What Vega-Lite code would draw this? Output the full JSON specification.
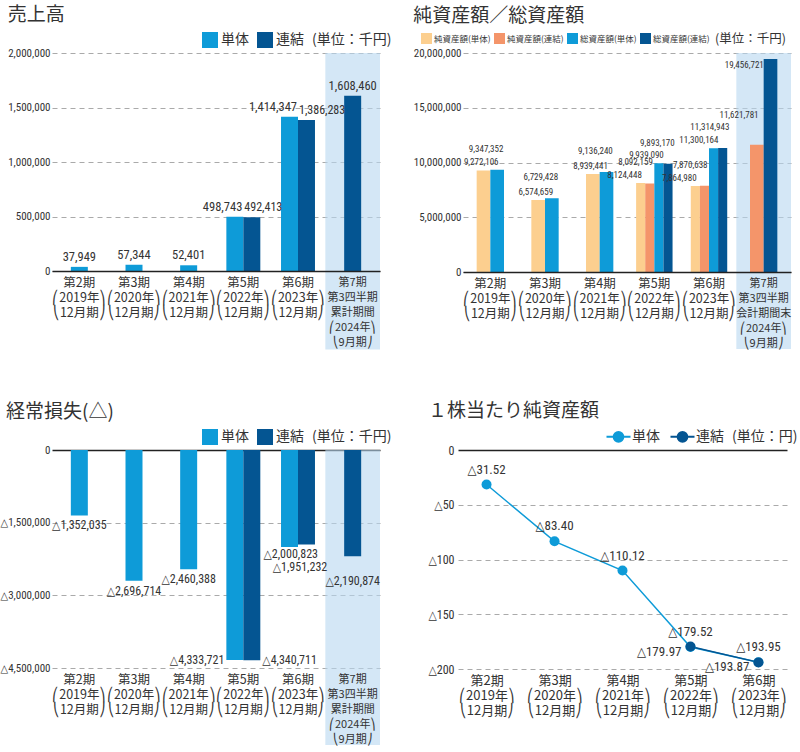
{
  "$schema": "https://vega.github.io/schema/vega-lite/v6.json",
  "padding": {"left": 0, "top": 6, "right": 0, "bottom": 0},
  "background": "white",
  "config": {
    "font": "Noto Sans CJK JP",
    "view": {"stroke": null},
    "locale": {"number": {"decimal": ".", "thousands": ",", "grouping": [3], "currency": ["", ""], "minus": "△"}}
  },
  "datasets": {
    "sales": [
      {"period": "第2期 (2019年 12月期)", "series": "単体", "value": 37949},
      {"period": "第3期 (2020年 12月期)", "series": "単体", "value": 57344},
      {"period": "第4期 (2021年 12月期)", "series": "単体", "value": 52401},
      {"period": "第5期 (2022年 12月期)", "series": "単体", "value": 498743},
      {"period": "第5期 (2022年 12月期)", "series": "連結", "value": 492413},
      {"period": "第6期 (2023年 12月期)", "series": "単体", "value": 1414347},
      {"period": "第6期 (2023年 12月期)", "series": "連結", "value": 1386283},
      {"period": "第7期 第3四半期 累計期間 (2024年 9月期)", "series": "連結", "value": 1608460}
    ],
    "assets": [
      {"period": "第2期 (2019年 12月期)", "series": "純資産額(単体)", "value": 9272106},
      {"period": "第2期 (2019年 12月期)", "series": "総資産額(単体)", "value": 9347352},
      {"period": "第3期 (2020年 12月期)", "series": "純資産額(単体)", "value": 6574659},
      {"period": "第3期 (2020年 12月期)", "series": "総資産額(単体)", "value": 6729428},
      {"period": "第4期 (2021年 12月期)", "series": "純資産額(単体)", "value": 8939441},
      {"period": "第4期 (2021年 12月期)", "series": "総資産額(単体)", "value": 9136240},
      {"period": "第5期 (2022年 12月期)", "series": "純資産額(単体)", "value": 8124448},
      {"period": "第5期 (2022年 12月期)", "series": "純資産額(連結)", "value": 8092159},
      {"period": "第5期 (2022年 12月期)", "series": "総資産額(単体)", "value": 9939090},
      {"period": "第5期 (2022年 12月期)", "series": "総資産額(連結)", "value": 9893170},
      {"period": "第6期 (2023年 12月期)", "series": "純資産額(単体)", "value": 7864980},
      {"period": "第6期 (2023年 12月期)", "series": "純資産額(連結)", "value": 7870638},
      {"period": "第6期 (2023年 12月期)", "series": "総資産額(単体)", "value": 11300164},
      {"period": "第6期 (2023年 12月期)", "series": "総資産額(連結)", "value": 11314943},
      {"period": "第7期 第3四半期 会計期間末 (2024年 9月期)", "series": "純資産額(連結)", "value": 11621781},
      {"period": "第7期 第3四半期 会計期間末 (2024年 9月期)", "series": "総資産額(連結)", "value": 19456721}
    ],
    "loss": [
      {"period": "第2期 (2019年 12月期)", "series": "単体", "value": -1352035},
      {"period": "第3期 (2020年 12月期)", "series": "単体", "value": -2696714},
      {"period": "第4期 (2021年 12月期)", "series": "単体", "value": -2460388},
      {"period": "第5期 (2022年 12月期)", "series": "単体", "value": -4333721},
      {"period": "第5期 (2022年 12月期)", "series": "連結", "value": -4340711},
      {"period": "第6期 (2023年 12月期)", "series": "単体", "value": -2000823},
      {"period": "第6期 (2023年 12月期)", "series": "連結", "value": -1951232},
      {"period": "第7期 第3四半期 累計期間 (2024年 9月期)", "series": "連結", "value": -2190874}
    ],
    "pershare": [
      {"period": "第2期 (2019年 12月期)", "series": "単体", "value": -31.52},
      {"period": "第3期 (2020年 12月期)", "series": "単体", "value": -83.40},
      {"period": "第4期 (2021年 12月期)", "series": "単体", "value": -110.12},
      {"period": "第5期 (2022年 12月期)", "series": "単体", "value": -179.97},
      {"period": "第6期 (2023年 12月期)", "series": "単体", "value": -193.87},
      {"period": "第5期 (2022年 12月期)", "series": "連結", "value": -179.52},
      {"period": "第6期 (2023年 12月期)", "series": "連結", "value": -193.95}
    ]
  },
  "spacing": 52,
  "resolve": {"scale": {"color": "independent", "xOffset": "independent"}, "legend": {"color": "independent"}},
  "vconcat": [
    {
      "spacing": 21,
      "resolve": {"scale": {"color": "independent", "xOffset": "independent"}, "legend": {"color": "independent"}},
      "hconcat": [
        {
          "width": 328, "height": 218,
          "title": {"text": "売上高", "anchor": "start", "frame": "bounds", "fontSize": 19, "fontWeight": "normal", "color": "#333", "offset": 7},
          "data": {"name": "sales"},
          "transform": [{"joinaggregate": [{"op": "count", "as": "n"}], "groupby": ["period"]}],
          "encoding": {
            "x": {"field": "period", "type": "nominal", "sort": "ascending", "scale": {"paddingInner": 0, "paddingOuter": 0},
              "axis": {"title": null, "labelAngle": 0, "labelExpr": "split(replace(replace(replace(datum.label, '(', '⎛'), '年 ', '年⎞ ⎝'), ')', '⎠'), ' ')", "labelFontSize": {"condition": {"test": "indexof(datum.value, '第7期') == 0", "value": 11}, "value": 12.5}, "labelLineHeight": 15, "labelColor": "#333", "labelPadding": 5, "ticks": false, "domain": true, "domainColor": "#222", "domainWidth": 1.5, "zindex": 1, "labelBaseline": "top"}},
            "y": {"field": "value", "type": "quantitative", "scale": {"domain": [0, 2000000], "nice": false},
              "axis": {"title": null, "values": [0, 500000, 1000000, 1500000, 2000000], "format": ",", "labelExpr": "format(datum.value, ',')", "grid": true, "gridColor": "#aaa", "gridDash": [5, 4], "domain": false, "ticks": false, "labelPadding": 2, "labelFont": "Liberation Sans Narrow, Roboto Condensed, DejaVu Sans Condensed, Liberation Sans", "labelFontSize": 11, "labelColor": "#333"}}
          },
          "layer": [
            {
              "transform": [{"filter": "indexof(datum.period, '第7期') == 0"}],
              "mark": {"type": "rect", "color": "#b7d7f0", "opacity": 0.6},
              "encoding": {"y": {"datum": 2000000, "type": "quantitative", "scale": {"domain": [0, 2000000], "nice": false},
                "axis": {"title": null, "values": [0, 500000, 1000000, 1500000, 2000000], "format": ",", "labelExpr": "format(datum.value, ',')", "grid": true, "gridColor": "#aaa", "gridDash": [5, 4], "domain": false, "ticks": false, "labelPadding": 2, "labelFont": "Liberation Sans Narrow, Roboto Condensed, DejaVu Sans Condensed, Liberation Sans", "labelFontSize": 11, "labelColor": "#333"}},
                "y2": {"datum": -720000}}
            },
            {
              "transform": [{"filter": "datum.n == 1"}],
              "mark": {"type": "bar", "width": 17},
              "encoding": {"color": {"field": "series", "type": "nominal", "scale": {"domain": ["単体", "連結"], "range": ["#0e9bd8", "#045592"]},
                "legend": {"title": "(単位：千円)", "titleOrient": "right", "orient": "none", "legendX": 150, "legendY": -21, "direction": "horizontal", "symbolType": "square", "symbolSize": 256, "symbolStrokeWidth": 0, "labelFontSize": 14, "titleFontSize": 14, "titleFontWeight": "normal", "titleColor": "#333", "labelColor": "#333", "columnPadding": 8, "labelOffset": 3, "titlePadding": 8}}}
            },
            {
              "transform": [{"filter": "datum.n == 2"}],
              "mark": {"type": "bar"},
              "encoding": {
                "xOffset": {"field": "series", "type": "nominal", "scale": {"domain": ["単体", "連結"], "paddingInner": 0, "paddingOuter": 0.61}},
                "color": {"field": "series", "type": "nominal", "scale": {"domain": ["単体", "連結"], "range": ["#0e9bd8", "#045592"]},
                  "legend": {"title": "(単位：千円)", "titleOrient": "right", "orient": "none", "legendX": 150, "legendY": -21, "direction": "horizontal", "symbolType": "square", "symbolSize": 256, "symbolStrokeWidth": 0, "labelFontSize": 14, "titleFontSize": 14, "titleFontWeight": "normal", "titleColor": "#333", "labelColor": "#333", "columnPadding": 8, "labelOffset": 3, "titlePadding": 8}}
              }
            },
            {
              "transform": [{"filter": "datum.n == 1"}],
              "mark": {"type": "text", "baseline": "bottom", "dy": -3, "font": "Liberation Sans Narrow, Roboto Condensed, DejaVu Sans Condensed, Liberation Sans", "fontSize": 12.5, "color": "#333"},
              "encoding": {"text": {"field": "value", "type": "quantitative", "format": ","}}
            },
            {
              "transform": [{"filter": "datum.n == 2 && datum.series == '単体'"}],
              "mark": {"type": "text", "baseline": "bottom", "align": "right", "dx": -1, "dy": -3, "font": "Liberation Sans Narrow, Roboto Condensed, DejaVu Sans Condensed, Liberation Sans", "fontSize": 12.5, "color": "#333"},
              "encoding": {"text": {"field": "value", "type": "quantitative", "format": ","}}
            },
            {
              "transform": [{"filter": "datum.n == 2 && datum.series == '連結'"}],
              "mark": {"type": "text", "baseline": "bottom", "align": "left", "dx": 1, "dy": -3, "font": "Liberation Sans Narrow, Roboto Condensed, DejaVu Sans Condensed, Liberation Sans", "fontSize": 12, "color": "#333"},
              "encoding": {"text": {"field": "value", "type": "quantitative", "format": ","}}
            }
          ],
          "resolve": {"scale": {"xOffset": "independent"}}
        },
        {
          "width": 328, "height": 219,
          "title": {"text": "純資産額／総資産額", "anchor": "start", "frame": "bounds", "fontSize": 19, "fontWeight": "normal", "color": "#333", "offset": 7},
          "data": {"name": "assets"},
          "transform": [{"joinaggregate": [{"op": "count", "as": "n"}], "groupby": ["period"]}],
          "encoding": {
            "x": {"field": "period", "type": "nominal", "sort": "ascending", "scale": {"paddingInner": 0, "paddingOuter": 0},
              "axis": {"title": null, "labelAngle": 0, "labelExpr": "split(replace(replace(replace(datum.label, '(', '⎛'), '年 ', '年⎞ ⎝'), ')', '⎠'), ' ')", "labelFontSize": {"condition": {"test": "indexof(datum.value, '第7期') == 0", "value": 11}, "value": 12.5}, "labelLineHeight": 15, "labelColor": "#333", "labelPadding": 5, "ticks": false, "domain": true, "domainColor": "#222", "domainWidth": 1.5, "zindex": 1, "labelBaseline": "top"}},
            "y": {"field": "value", "type": "quantitative", "scale": {"domain": [0, 20000000], "nice": false},
              "axis": {"title": null, "values": [0, 5000000, 10000000, 15000000, 20000000], "format": ",", "labelExpr": "format(datum.value, ',')", "grid": true, "gridColor": "#aaa", "gridDash": [5, 4], "domain": false, "ticks": false, "labelPadding": 2, "labelFont": "Liberation Sans Narrow, Roboto Condensed, DejaVu Sans Condensed, Liberation Sans", "labelFontSize": 11, "labelColor": "#333"}}
          },
          "layer": [
            {
              "transform": [{"filter": "indexof(datum.period, '第7期') == 0 && datum.series == '総資産額(連結)'"}],
              "mark": {"type": "rect", "color": "#b7d7f0", "opacity": 0.6},
              "encoding": {"y": {"datum": 20000000, "type": "quantitative", "scale": {"domain": [0, 20000000], "nice": false},
                "axis": {"title": null, "values": [0, 5000000, 10000000, 15000000, 20000000], "format": ",", "labelExpr": "format(datum.value, ',')", "grid": true, "gridColor": "#aaa", "gridDash": [5, 4], "domain": false, "ticks": false, "labelPadding": 2, "labelFont": "Liberation Sans Narrow, Roboto Condensed, DejaVu Sans Condensed, Liberation Sans", "labelFontSize": 11, "labelColor": "#333"}},
                "y2": {"datum": -7030000}}
            },
            {
              "transform": [{"filter": "datum.n == 2 && indexof(datum.series, '単体') > 0"}],
              "mark": {"type": "bar"},
              "encoding": {
                "xOffset": {"field": "series", "type": "nominal", "scale": {"domain": ["純資産額(単体)", "総資産額(単体)"], "paddingInner": 0, "paddingOuter": 2.28}},
                "color": {"field": "series", "type": "nominal", "scale": {"domain": ["純資産額(単体)", "純資産額(連結)", "総資産額(単体)", "総資産額(連結)"], "range": ["#fccf8f", "#f4956a", "#0e9bd8", "#045592"]},
                  "legend": {"title": "(単位：千円)", "titleOrient": "right", "orient": "none", "legendX": -42, "legendY": -20, "direction": "horizontal", "symbolType": "square", "symbolSize": 121, "symbolStrokeWidth": 0, "labelFontSize": 8.5, "titleFontSize": 12.5, "titleFontWeight": "normal", "titleColor": "#333", "labelColor": "#333", "columnPadding": 3, "labelOffset": 2, "titlePadding": 5}}
              }
            },
            {
              "transform": [{"filter": "datum.n == 2 && indexof(datum.series, '連結') > 0"}],
              "mark": {"type": "bar"},
              "encoding": {
                "xOffset": {"field": "series", "type": "nominal", "scale": {"domain": ["純資産額(連結)", "総資産額(連結)"], "paddingInner": 0, "paddingOuter": 2.28}},
                "color": {"field": "series", "type": "nominal", "scale": {"domain": ["純資産額(単体)", "純資産額(連結)", "総資産額(単体)", "総資産額(連結)"], "range": ["#fccf8f", "#f4956a", "#0e9bd8", "#045592"]},
                  "legend": {"title": "(単位：千円)", "titleOrient": "right", "orient": "none", "legendX": -42, "legendY": -20, "direction": "horizontal", "symbolType": "square", "symbolSize": 121, "symbolStrokeWidth": 0, "labelFontSize": 8.5, "titleFontSize": 12.5, "titleFontWeight": "normal", "titleColor": "#333", "labelColor": "#333", "columnPadding": 3, "labelOffset": 2, "titlePadding": 5}}
              }
            },
            {
              "transform": [{"filter": "datum.n == 4"}],
              "mark": {"type": "bar"},
              "encoding": {
                "xOffset": {"field": "series", "type": "nominal", "scale": {"domain": ["純資産額(単体)", "純資産額(連結)", "総資産額(単体)", "総資産額(連結)"], "paddingInner": 0, "paddingOuter": 1.28}},
                "color": {"field": "series", "type": "nominal", "scale": {"domain": ["純資産額(単体)", "純資産額(連結)", "総資産額(単体)", "総資産額(連結)"], "range": ["#fccf8f", "#f4956a", "#0e9bd8", "#045592"]},
                  "legend": {"title": "(単位：千円)", "titleOrient": "right", "orient": "none", "legendX": -42, "legendY": -20, "direction": "horizontal", "symbolType": "square", "symbolSize": 121, "symbolStrokeWidth": 0, "labelFontSize": 8.5, "titleFontSize": 12.5, "titleFontWeight": "normal", "titleColor": "#333", "labelColor": "#333", "columnPadding": 3, "labelOffset": 2, "titlePadding": 5}}
              }
            },
            {
              "transform": [{"filter": "datum.n == 2 && indexof(datum.series, '単体') > 0 && indexof(datum.series, '純資産') == 0"}],
              "mark": {"type": "text", "baseline": "middle", "align": "center", "dx": 0, "dy": -8, "font": "Liberation Sans Narrow, Roboto Condensed, DejaVu Sans Condensed, Liberation Sans", "fontSize": 9, "color": "#333"},
              "encoding": {
                "xOffset": {"field": "series", "type": "nominal", "scale": {"domain": ["純資産額(単体)", "総資産額(単体)"], "paddingInner": 0, "paddingOuter": 2.28}},
                "text": {"field": "value", "type": "quantitative", "format": ","}}
            },
            {
              "transform": [{"filter": "datum.n == 2 && indexof(datum.series, '単体') > 0 && indexof(datum.series, '総資産') == 0"}],
              "mark": {"type": "text", "baseline": "middle", "align": "right", "dx": 4, "dy": -21, "font": "Liberation Sans Narrow, Roboto Condensed, DejaVu Sans Condensed, Liberation Sans", "fontSize": 9, "color": "#333"},
              "encoding": {
                "xOffset": {"field": "series", "type": "nominal", "scale": {"domain": ["純資産額(単体)", "総資産額(単体)"], "paddingInner": 0, "paddingOuter": 2.28}},
                "text": {"field": "value", "type": "quantitative", "format": ","}}
            },
            {
              "transform": [{"filter": "datum.n == 2 && indexof(datum.series, '連結') > 0 && indexof(datum.series, '純資産') == 0"}],
              "mark": {"type": "text", "baseline": "middle", "align": "right", "dx": 4, "dy": -30, "font": "Liberation Sans Narrow, Roboto Condensed, DejaVu Sans Condensed, Liberation Sans", "fontSize": 9, "color": "#333"},
              "encoding": {
                "xOffset": {"field": "series", "type": "nominal", "scale": {"domain": ["純資産額(連結)", "総資産額(連結)"], "paddingInner": 0, "paddingOuter": 2.28}},
                "text": {"field": "value", "type": "quantitative", "format": ","}}
            },
            {
              "transform": [{"filter": "datum.n == 2 && indexof(datum.series, '連結') > 0 && indexof(datum.series, '総資産') == 0"}],
              "mark": {"type": "text", "baseline": "top", "align": "right", "dx": -9, "dy": 2, "font": "Liberation Sans Narrow, Roboto Condensed, DejaVu Sans Condensed, Liberation Sans", "fontSize": 9, "color": "#333"},
              "encoding": {
                "xOffset": {"field": "series", "type": "nominal", "scale": {"domain": ["純資産額(連結)", "総資産額(連結)"], "paddingInner": 0, "paddingOuter": 2.28}},
                "text": {"field": "value", "type": "quantitative", "format": ","}}
            },
            {
              "transform": [{"filter": "datum.n == 4 && indexof(datum.series, '単体') > 0"}],
              "mark": {"type": "text", "baseline": "middle", "align": "right", "dx": 4, "dy": -8, "font": "Liberation Sans Narrow, Roboto Condensed, DejaVu Sans Condensed, Liberation Sans", "fontSize": 9, "color": "#333"},
              "encoding": {
                "xOffset": {"field": "series", "type": "nominal", "scale": {"domain": ["純資産額(単体)", "純資産額(連結)", "総資産額(単体)", "総資産額(連結)"], "paddingInner": 0, "paddingOuter": 1.28}},
                "text": {"field": "value", "type": "quantitative", "format": ","}}
            },
            {
              "transform": [{"filter": "datum.n == 4 && indexof(datum.series, '連結') > 0"}],
              "mark": {"type": "text", "baseline": "middle", "align": "right", "dx": 4, "dy": -21, "font": "Liberation Sans Narrow, Roboto Condensed, DejaVu Sans Condensed, Liberation Sans", "fontSize": 9, "color": "#333"},
              "encoding": {
                "xOffset": {"field": "series", "type": "nominal", "scale": {"domain": ["純資産額(単体)", "純資産額(連結)", "総資産額(単体)", "総資産額(連結)"], "paddingInner": 0, "paddingOuter": 1.28}},
                "text": {"field": "value", "type": "quantitative", "format": ","}}
            }
          ],
          "resolve": {"scale": {"xOffset": "independent"}}
        }
      ]
    },
    {
      "spacing": 35,
      "resolve": {"scale": {"color": "independent", "xOffset": "independent"}, "legend": {"color": "independent"}},
      "hconcat": [
        {
          "width": 328, "height": 218,
          "title": {"text": "経常損失(△)", "anchor": "start", "frame": "bounds", "fontSize": 19, "fontWeight": "normal", "color": "#333", "offset": 7, "dx": 6},
          "data": {"name": "loss"},
          "transform": [{"joinaggregate": [{"op": "count", "as": "n"}], "groupby": ["period"]}],
          "encoding": {
            "x": {"field": "period", "type": "nominal", "sort": "ascending", "scale": {"paddingInner": 0, "paddingOuter": 0},
              "axis": {"title": null, "labelAngle": 0, "labelExpr": "split(replace(replace(replace(datum.label, '(', '⎛'), '年 ', '年⎞ ⎝'), ')', '⎠'), ' ')", "labelFontSize": {"condition": {"test": "indexof(datum.value, '第7期') == 0", "value": 11}, "value": 12.5}, "labelLineHeight": 15, "labelColor": "#333", "labelPadding": 5, "ticks": false, "domain": false, "zindex": 1, "labelBaseline": "top"}},
            "y": {"field": "value", "type": "quantitative", "scale": {"domain": [-4500000, 0], "nice": false},
              "axis": {"title": null, "values": [0, -1500000, -3000000, -4500000], "format": ",", "labelExpr": "format(datum.value, ',')", "grid": true, "gridColor": {"condition": {"test": "datum.value === 0", "value": "#222"}, "value": "#aaa"}, "gridDash": {"condition": {"test": "datum.value === 0", "value": []}, "value": [5, 4]}, "gridWidth": {"condition": {"test": "datum.value === 0", "value": 1.5}, "value": 1}, "domain": false, "ticks": false, "labelPadding": 2, "labelFont": "Liberation Sans Narrow, Roboto Condensed, DejaVu Sans Condensed, Liberation Sans", "labelFontSize": 11, "labelColor": "#333"}}
          },
          "layer": [
            {
              "transform": [{"filter": "indexof(datum.period, '第7期') == 0"}],
              "mark": {"type": "rect", "color": "#b7d7f0", "opacity": 0.6},
              "encoding": {"y": {"datum": 0, "type": "quantitative", "scale": {"domain": [-4500000, 0], "nice": false},
                "axis": {"title": null, "values": [0, -1500000, -3000000, -4500000], "format": ",", "labelExpr": "format(datum.value, ',')", "grid": true, "gridColor": {"condition": {"test": "datum.value === 0", "value": "#222"}, "value": "#aaa"}, "gridDash": {"condition": {"test": "datum.value === 0", "value": []}, "value": [5, 4]}, "gridWidth": {"condition": {"test": "datum.value === 0", "value": 1.5}, "value": 1}, "domain": false, "ticks": false, "labelPadding": 2, "labelFont": "Liberation Sans Narrow, Roboto Condensed, DejaVu Sans Condensed, Liberation Sans", "labelFontSize": 11, "labelColor": "#333"}},
                "y2": {"datum": -6090000}}
            },
            {
              "transform": [{"filter": "datum.n == 1"}],
              "mark": {"type": "bar", "width": 17},
              "encoding": {"color": {"field": "series", "type": "nominal", "scale": {"domain": ["単体", "連結"], "range": ["#0e9bd8", "#045592"]},
                "legend": {"title": "(単位：千円)", "titleOrient": "right", "orient": "none", "legendX": 150, "legendY": -21, "direction": "horizontal", "symbolType": "square", "symbolSize": 256, "symbolStrokeWidth": 0, "labelFontSize": 14, "titleFontSize": 14, "titleFontWeight": "normal", "titleColor": "#333", "labelColor": "#333", "columnPadding": 8, "labelOffset": 3, "titlePadding": 8}}}
            },
            {
              "transform": [{"filter": "datum.n == 2"}],
              "mark": {"type": "bar"},
              "encoding": {
                "xOffset": {"field": "series", "type": "nominal", "scale": {"domain": ["単体", "連結"], "paddingInner": 0, "paddingOuter": 0.61}},
                "color": {"field": "series", "type": "nominal", "scale": {"domain": ["単体", "連結"], "range": ["#0e9bd8", "#045592"]},
                  "legend": {"title": "(単位：千円)", "titleOrient": "right", "orient": "none", "legendX": 150, "legendY": -21, "direction": "horizontal", "symbolType": "square", "symbolSize": 256, "symbolStrokeWidth": 0, "labelFontSize": 14, "titleFontSize": 14, "titleFontWeight": "normal", "titleColor": "#333", "labelColor": "#333", "columnPadding": 8, "labelOffset": 3, "titlePadding": 8}}
              }
            },
            {
              "transform": [{"filter": "datum.n == 1 && datum.series == '単体'"}],
              "mark": {"type": "text", "baseline": "top", "dy": 5, "font": "Liberation Sans Narrow, Roboto Condensed, DejaVu Sans Condensed, Liberation Sans", "fontSize": 12, "color": "#333"},
              "encoding": {"text": {"field": "value", "type": "quantitative", "format": ","}}
            },
            {
              "transform": [{"filter": "datum.n == 1 && datum.series == '連結'"}],
              "mark": {"type": "text", "baseline": "top", "dy": 20, "font": "Liberation Sans Narrow, Roboto Condensed, DejaVu Sans Condensed, Liberation Sans", "fontSize": 12, "color": "#333"},
              "encoding": {"text": {"field": "value", "type": "quantitative", "format": ","}}
            },
            {
              "transform": [{"filter": "datum.n == 2 && datum.series == '単体' && datum.value > -4000000"}],
              "mark": {"type": "text", "baseline": "top", "align": "right", "dx": 20, "dy": 2, "font": "Liberation Sans Narrow, Roboto Condensed, DejaVu Sans Condensed, Liberation Sans", "fontSize": 12, "color": "#333"},
              "encoding": {"text": {"field": "value", "type": "quantitative", "format": ","}}
            },
            {
              "transform": [{"filter": "datum.n == 2 && datum.series == '連結' && datum.value > -4000000"}],
              "mark": {"type": "text", "baseline": "top", "align": "center", "dx": 2, "dy": 17, "font": "Liberation Sans Narrow, Roboto Condensed, DejaVu Sans Condensed, Liberation Sans", "fontSize": 12, "color": "#333"},
              "encoding": {"text": {"field": "value", "type": "quantitative", "format": ","}}
            },
            {
              "transform": [{"filter": "datum.n == 2 && datum.series == '単体' && datum.value <= -4000000"}],
              "mark": {"type": "text", "baseline": "middle", "align": "right", "dx": -19, "font": "Liberation Sans Narrow, Roboto Condensed, DejaVu Sans Condensed, Liberation Sans", "fontSize": 12, "color": "#333"},
              "encoding": {"text": {"field": "value", "type": "quantitative", "format": ","}}
            },
            {
              "transform": [{"filter": "datum.n == 2 && datum.series == '連結' && datum.value <= -4000000"}],
              "mark": {"type": "text", "baseline": "middle", "align": "left", "dx": 19, "font": "Liberation Sans Narrow, Roboto Condensed, DejaVu Sans Condensed, Liberation Sans", "fontSize": 12, "color": "#333"},
              "encoding": {"text": {"field": "value", "type": "quantitative", "format": ","}}
            }
          ],
          "resolve": {"scale": {"xOffset": "independent"}}
        },
        {
          "width": 329, "height": 219,
          "title": {"text": "１株当たり純資産額", "anchor": "start", "frame": "bounds", "fontSize": 19, "fontWeight": "normal", "color": "#333", "offset": 7},
          "data": {"name": "pershare"},
          "transform": [{"joinaggregate": [{"op": "count", "as": "n"}], "groupby": ["period"]}],
          "encoding": {
            "x": {"field": "period", "type": "nominal", "sort": "ascending", "scale": {"type": "point", "padding": 0.42},
              "axis": {"title": null, "labelAngle": 0, "labelExpr": "split(replace(replace(replace(datum.label, '(', '⎛'), '年 ', '年⎞ ⎝'), ')', '⎠'), ' ')", "labelFontSize": 13, "labelLineHeight": 15, "labelColor": "#333", "labelPadding": 5, "ticks": false, "domain": false, "labelBaseline": "top"}},
            "y": {"field": "value", "type": "quantitative", "scale": {"domain": [-200, 0], "nice": false},
              "axis": {"title": null, "values": [0, -50, -100, -150, -200], "format": "d", "grid": true, "gridColor": {"condition": {"test": "datum.value === 0", "value": "#222"}, "value": "#aaa"}, "gridDash": {"condition": {"test": "datum.value === 0", "value": []}, "value": [5, 4]}, "gridWidth": {"condition": {"test": "datum.value === 0", "value": 1.5}, "value": 1}, "domain": false, "ticks": false, "labelPadding": 4, "labelFont": "Liberation Sans Narrow, Roboto Condensed, DejaVu Sans Condensed, Liberation Sans", "labelFontSize": 12, "labelColor": "#333"}}
          },
          "layer": [
            {
              "mark": {"type": "line", "strokeWidth": 1.5},
              "encoding": {"color": {"field": "series", "type": "nominal", "scale": {"domain": ["単体", "連結"], "range": ["#0e9bd8", "#045592"]},
                "legend": {"title": "(単位：円)", "titleOrient": "right", "orient": "none", "legendX": 152, "legendY": -22, "direction": "horizontal", "symbolType": "M-1.6,0H-0.65M0.65,0H1.6M0.65,0A0.65,0.65 0 1,1 -0.65,0A0.65,0.65 0 1,1 0.65,0", "symbolSize": 225, "symbolStrokeWidth": 2, "labelFontSize": 14, "titleFontSize": 14, "titleFontWeight": "normal", "titleColor": "#333", "labelColor": "#333", "columnPadding": 6, "labelOffset": 5, "titlePadding": 8}}}
            },
            {
              "mark": {"type": "point", "filled": true, "size": 100, "opacity": 1},
              "encoding": {"color": {"field": "series", "type": "nominal", "scale": {"domain": ["単体", "連結"], "range": ["#0e9bd8", "#045592"]},
                "legend": {"title": "(単位：円)", "titleOrient": "right", "orient": "none", "legendX": 152, "legendY": -22, "direction": "horizontal", "symbolType": "M-1.6,0H-0.65M0.65,0H1.6M0.65,0A0.65,0.65 0 1,1 -0.65,0A0.65,0.65 0 1,1 0.65,0", "symbolSize": 225, "symbolStrokeWidth": 2, "labelFontSize": 14, "titleFontSize": 14, "titleFontWeight": "normal", "titleColor": "#333", "labelColor": "#333", "columnPadding": 6, "labelOffset": 5, "titlePadding": 8}}}
            },
            {
              "transform": [{"filter": "datum.n == 1 || datum.series == '連結'"}],
              "mark": {"type": "text", "baseline": "bottom", "dy": -8, "font": "Liberation Sans Narrow, Roboto Condensed, DejaVu Sans Condensed, Liberation Sans", "fontSize": 13, "color": "#333"},
              "encoding": {"text": {"field": "value", "type": "quantitative", "format": ".2f"}}
            },
            {
              "transform": [{"filter": "datum.n == 2 && datum.series == '単体'"}],
              "mark": {"type": "text", "baseline": "middle", "align": "right", "dx": -9, "dy": 5, "font": "Liberation Sans Narrow, Roboto Condensed, DejaVu Sans Condensed, Liberation Sans", "fontSize": 13, "color": "#333"},
              "encoding": {"text": {"field": "value", "type": "quantitative", "format": ".2f"}}
            }
          ]
        }
      ]
    }
  ]
}
